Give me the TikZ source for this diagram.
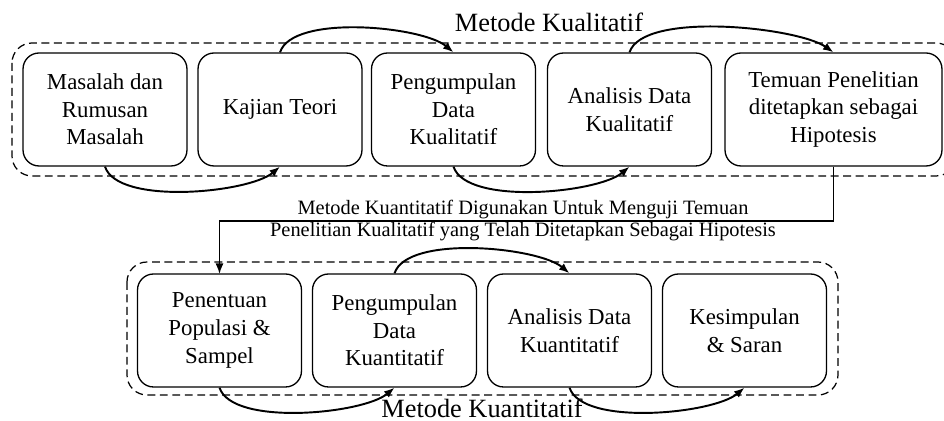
\documentclass[tikz,border=0pt]{standalone}
\usepackage{fontspec}
\setmainfont{Liberation Serif}
\usepackage{tikz}
\usetikzlibrary{positioning, arrows.meta, calc}

\begin{document}
\begin{tikzpicture}[
  x=0.02cm, y=-0.02cm,
  stage/.style={draw, line width=0.75pt, rounded corners=0.32cm, minimum width=3.28cm,
                minimum height=2.26cm, align=center, inner sep=2pt,
                font=\fontsize{13}{15.7}\selectfont},
  group/.style={draw, line width=0.7pt, dash pattern=on 4.5pt off 2.6pt, rounded corners=0.4cm},
  flow/.style={line width=1.1pt, -{Latex[length=2.1mm,width=1.6mm]}},
  caption/.style={font=\fontsize{15}{18}\selectfont, anchor=base},
  note/.style={font=\fontsize{11.6}{12.2}\selectfont, align=center, inner sep=0pt},
]
  \useasboundingbox (0,0) rectangle (944,421);

  % metode kualitatif
  \draw[group] (12,43) rectangle (956,176);
  \node[caption] (kual) at (549,32) {Metode Kualitatif};

  \node[stage] (k1) at (105,109.5) {Masalah dan\\Rumusan\\Masalah};
  \node[stage] (k2) at (280,109.5) {Kajian Teori};
  \node[stage] (k3) at (453.5,109.5) {Pengumpulan\\Data\\Kualitatif};
  \node[stage] (k4) at (629.5,109.5) {Analisis Data\\Kualitatif};
  \node[stage, minimum width=4.34cm] (k5) at (833.5,109.5) {Temuan Penelitian\\ditetapkan sebagai\\Hipotesis};

  \draw[flow] (k1.south) to[out=-72, in=-140, looseness=0.6] (k2.south);
  \draw[flow] (k2.north) to[out=72, in=140, looseness=0.6] (k3.north);
  \draw[flow] (k3.south) to[out=-72, in=-140, looseness=0.6] (k4.south);
  \draw[flow] (k4.north) to[out=72, in=145, looseness=0.55] (k5.north);

  % penghubung
  \coordinate (turn) at (526,221);
  \draw[flow, line width=0.9pt] (k5.south) |- (turn) -| (219.5,274);
  \node[note] (ket) at (523,220.5) {Metode Kuantitatif Digunakan Untuk Menguji Temuan\\
    Penelitian Kualitatif yang Telah Ditetapkan Sebagai Hipotesis};

  % metode kuantitatif
  \draw[group] (127,262) rectangle (838,395);
  \node[caption] (kuan) at (482,418) {Metode Kuantitatif};

  \node[stage] (q1) at (219.5,330.5) {Penentuan\\Populasi \&\\Sampel};
  \node[stage] (q2) at (394.5,330.5) {Pengumpulan\\Data\\Kuantitatif};
  \node[stage] (q3) at (569.5,330.5) {Analisis Data\\Kuantitatif};
  \node[stage] (q4) at (744.5,330.5) {Kesimpulan\\\& Saran};

  \draw[flow] (q1.south) to[out=-72, in=-140, looseness=0.6] (q2.south);
  \draw[flow] (q2.north) to[out=72, in=140, looseness=0.6] (q3.north);
  \draw[flow] (q3.south) to[out=-72, in=-140, looseness=0.6] (q4.south);
\end{tikzpicture}
\end{document}
